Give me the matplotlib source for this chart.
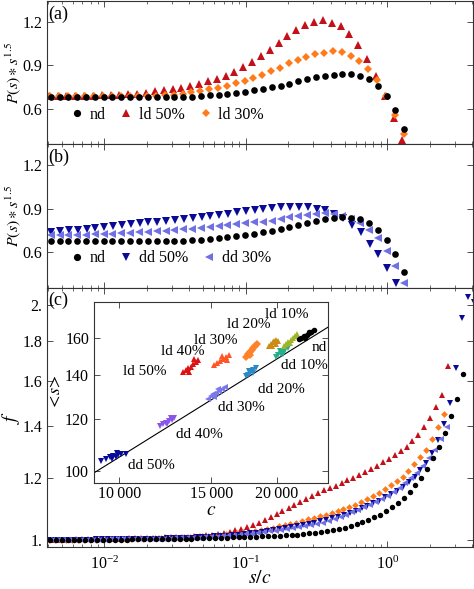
import matplotlib
matplotlib.use("Agg")
import matplotlib.pyplot as plt
import numpy as np
from matplotlib.ticker import FixedLocator, FixedFormatter, NullLocator, NullFormatter, LogLocator
from matplotlib.lines import Line2D

# ---------------- data ----------------
# panels (a)/(b): s/c bin centres
X_AB = [0.00418, 0.00483, 0.00557, 0.00643, 0.00743, 0.00858, 0.00991, 0.01144, 0.01321, 0.01526,
        0.01762, 0.02034, 0.02350, 0.02713, 0.03133, 0.03618, 0.04178, 0.04825, 0.05572, 0.06434,
        0.07430, 0.0858, 0.0991, 0.1144, 0.1321, 0.1526, 0.1762, 0.2034, 0.2350, 0.2713,
        0.3133, 0.3618, 0.4178, 0.4825, 0.5572, 0.6434, 0.7430, 0.858, 0.991, 1.144, 1.321]

# P(s)*s^1.5
ND_P = [0.678] * 12 + [0.679, 0.679, 0.680, 0.681, 0.683, 0.687, 0.691, 0.696, 0.703, 0.710,
                       0.718, 0.728, 0.738, 0.748, 0.759, 0.773, 0.789, 0.803, 0.817, 0.826,
                       0.835, 0.842, 0.838, 0.826, 0.803, 0.755, 0.688, 0.588, 0.462]
LD50_P = [0.690] * 6 + [0.692, 0.695, 0.697, 0.699, 0.704, 0.711, 0.720, 0.727, 0.734, 0.745,
                        0.759, 0.773, 0.789, 0.808, 0.828, 0.854, 0.888, 0.923, 0.965, 1.008,
                        1.052, 1.101, 1.142, 1.177, 1.200, 1.212, 1.195, 1.172, 1.119, 1.043,
                        0.946, 0.824, 0.688, 0.538, 0.381]
LD30_P = [0.685] * 12 + [0.688, 0.692, 0.697, 0.704, 0.713, 0.722, 0.734, 0.745, 0.759, 0.778,
                         0.794, 0.810, 0.831, 0.858, 0.884, 0.912, 0.935, 0.958, 0.976, 0.985,
                         0.997, 0.988, 0.962, 0.930, 0.877, 0.796, 0.688, 0.554, 0.427]
DD50_P = [0.740, 0.745, 0.750, 0.755, 0.762, 0.768, 0.775, 0.781, 0.787, 0.794,
          0.800, 0.805, 0.811, 0.817, 0.823, 0.830, 0.837, 0.844, 0.851, 0.858,
          0.865, 0.874, 0.884, 0.893, 0.898, 0.905, 0.910, 0.912, 0.912, 0.909,
          0.900, 0.888, 0.865, 0.835, 0.789, 0.738, 0.658, 0.586, 0.489, 0.390]
DD30_P = [0.718, 0.717, 0.719, 0.720, 0.721, 0.724, 0.727, 0.729, 0.732, 0.734,
          0.738, 0.741, 0.745, 0.748, 0.752, 0.757, 0.762, 0.768, 0.775, 0.780,
          0.787, 0.792, 0.798, 0.805, 0.808, 0.817, 0.831, 0.842, 0.852, 0.858,
          0.865, 0.870, 0.863, 0.852, 0.831, 0.801, 0.755, 0.697, 0.609, 0.508, 0.390]

# panel (c): finer s/c bins
X_C = [0.00413, 0.00455, 0.00501, 0.00551, 0.00607, 0.00668, 0.00735, 0.00809, 0.00891, 0.00980,
       0.0108, 0.0119, 0.0131, 0.0144, 0.0158, 0.0174, 0.0192, 0.0211, 0.0232, 0.0256,
       0.0282, 0.0310, 0.0341, 0.0376, 0.0413, 0.0455, 0.0501, 0.0551, 0.0607, 0.0668,
       0.0735, 0.0809, 0.0891, 0.0980, 0.108, 0.119, 0.131, 0.144, 0.158, 0.174,
       0.192, 0.211, 0.232, 0.256, 0.282, 0.310, 0.341, 0.376, 0.413, 0.455,
       0.501, 0.551, 0.607, 0.668, 0.735, 0.809, 0.891, 0.980, 1.08, 1.19,
       1.31, 1.44, 1.58, 1.74, 1.92, 2.11, 2.32, 2.56, 2.82, 3.10,
       3.41, 3.76, 4.14]

ND_F = ([1.000] * 10 + [1.001] * 4 + [1.002] * 4 + [1.003] * 4 + [1.004] * 3 + [1.005] * 2
        + [1.006] * 2 + [1.007] * 2
        + [1.008, 1.008, 1.009, 1.009, 1.010, 1.011, 1.011, 1.012, 1.013, 1.014,
           1.015, 1.016, 1.018, 1.020, 1.022, 1.024, 1.027, 1.030, 1.033, 1.037,
           1.042, 1.047, 1.054, 1.061, 1.069, 1.078, 1.088, 1.101, 1.114, 1.131,
           1.152, 1.175, 1.200, 1.232, 1.273, 1.317, 1.373, 1.441, 1.516, 1.634])
LD50_F = ([1.001] * 4 + [1.002] * 4 + [1.003] * 3 + [1.004] * 2 + [1.005] * 2 + [1.006] * 2
          + [1.007] * 2 + [1.008] * 2
          + [1.009, 1.010, 1.010, 1.011, 1.012, 1.014, 1.016, 1.019, 1.022, 1.025,
             1.029, 1.034, 1.039, 1.045, 1.052, 1.060, 1.069, 1.079, 1.090, 1.100,
             1.110, 1.120, 1.130, 1.140, 1.150, 1.158, 1.166, 1.174, 1.184, 1.193,
             1.202, 1.211, 1.222, 1.233, 1.245, 1.257, 1.270, 1.284, 1.299, 1.317,
             1.339, 1.364, 1.396, 1.434, 1.479, 1.532, 1.671])
LD30_F = ([1.001] * 9 + [1.002] * 4 + [1.003] * 3 + [1.004] * 2 + [1.005] * 2 + [1.006] * 2
          + [1.007, 1.008, 1.009, 1.010, 1.011, 1.012, 1.013, 1.015, 1.017, 1.019,
             1.021, 1.023, 1.025, 1.028, 1.031, 1.034, 1.037, 1.041, 1.045, 1.049,
             1.053, 1.058, 1.063, 1.068, 1.073, 1.078, 1.084, 1.089, 1.095, 1.102,
             1.110, 1.118, 1.127, 1.137, 1.150, 1.161, 1.175, 1.190, 1.205, 1.226,
             1.251, 1.278, 1.306, 1.347, 1.397, 1.450])
DD50_F = ([1.001] * 8 + [1.002] * 5 + [1.003] * 4 + [1.004] * 3 + [1.005] * 2 + [1.006] * 2
          + [1.007, 1.008, 1.009, 1.010, 1.011, 1.012, 1.013, 1.015, 1.016, 1.018,
             1.020, 1.022, 1.024, 1.026, 1.029, 1.032, 1.035, 1.038, 1.041, 1.045,
             1.049, 1.053, 1.057, 1.061, 1.066, 1.071, 1.077, 1.084, 1.090, 1.098,
             1.105, 1.114, 1.123, 1.134, 1.146, 1.157, 1.170, 1.186, 1.205, 1.229,
             1.256, 1.294, 1.345, 1.410, 1.500, 1.663, 1.925, 2.050, 2.020])
DD30_F = ([1.001] * 10 + [1.002] * 5 + [1.003] * 3 + [1.004] * 3 + [1.005] * 2 + [1.006] * 2
          + [1.007, 1.008, 1.009, 1.010, 1.011, 1.012, 1.013, 1.015, 1.017, 1.019,
             1.021, 1.023, 1.026, 1.026, 1.029, 1.032, 1.035, 1.038, 1.042, 1.045,
             1.049, 1.053, 1.058, 1.064, 1.071, 1.078, 1.085, 1.093, 1.101, 1.110,
             1.119, 1.129, 1.140, 1.152, 1.166, 1.182, 1.199, 1.220, 1.244, 1.272,
             1.305, 1.348, 1.394])

# inset: (c, <s>) clusters
IN_C_DD50 = [9250, 9450, 9600, 9750, 9850, 9950, 10100, 10300, 9700, 9900]
IN_S_DD50 = [103.5, 104.2, 104.8, 105.3, 105.0, 105.8, 106.2, 106.0, 104.3, 106.4]
IN_C_DD40 = [11950, 12150, 12300, 12450, 12600, 12750, 12350, 12550]
IN_S_DD40 = [117.2, 117.8, 118.5, 119.2, 119.6, 120.3, 117.9, 120.6]
IN_C_DD30 = [14750, 14950, 15100, 15300, 15500, 15700, 15950, 15200, 15450]
IN_S_DD30 = [129.0, 130.0, 131.0, 131.8, 132.6, 133.5, 134.5, 129.8, 133.4]
IN_C_DD20 = [17450, 17600, 17750, 17900, 18050, 18250, 17700, 18000]
IN_S_DD20 = [139.5, 140.4, 141.2, 142.0, 142.8, 143.8, 142.3, 141.3]
IN_C_DD10 = [19950, 20150, 20350, 20550, 20750, 21000, 20300, 20600]
IN_S_DD10 = [149.5, 150.4, 151.3, 152.3, 153.2, 154.3, 152.6, 151.0]
IN_C_ND = [22050, 22300, 22550, 22800, 23050, 23300, 23600, 22600, 23000]
IN_S_ND = [159.0, 160.0, 161.0, 161.8, 162.5, 163.4, 164.2, 159.8, 163.5]
IN_C_LD10 = [20650, 20850, 21050, 21250, 21450, 21650, 21850, 21200]
IN_S_LD10 = [155.5, 156.6, 157.8, 158.8, 160.0, 161.2, 162.0, 157.0]
IN_C_LD20 = [19350, 19500, 19650, 19800, 19950, 20150, 19600, 19900]
IN_S_LD20 = [155.5, 156.5, 157.5, 158.3, 158.8, 158.2, 155.5, 156.3]
IN_C_LD30 = [17450, 17600, 17750, 17900, 18050, 18200, 18350, 17800]
IN_S_LD30 = [149.5, 150.8, 152.0, 153.2, 154.3, 155.3, 156.3, 150.5]
IN_C_LD40 = [15150, 15400, 15600, 15800, 16000, 16200, 15700, 16100]
IN_S_LD40 = [145.5, 146.5, 147.5, 148.5, 149.5, 150.5, 149.8, 148.0]
IN_C_LD50 = [13250, 13400, 13550, 13700, 13850, 14000, 14150, 13600, 13900]
IN_S_LD50 = [141.5, 142.5, 143.5, 144.5, 145.7, 146.8, 148.0, 141.8, 148.5]

# fitted scaling <s> = A * c^0.5
FIT_A = 1.049
FIT_EXP = 0.5

IN_LABELS = ['ld 50%', 'ld 40%', 'ld 30%', 'ld 20%', 'ld 10%', 'nd',
             'dd 10%', 'dd 20%', 'dd 30%', 'dd 40%', 'dd 50%']
IN_LABEL_C = [11200, 13230, 15320, 17670, 20860, 24060, 22590, 20400, 17110, 14210, 11540]
IN_LABEL_S = [142.0, 152.4, 158.5, 167.6, 173.6, 154.3, 144.9, 133.4, 125.2, 113.5, 102.0]

# ---------------- style ----------------
plt.rcParams['font.family'] = ['Liberation Serif', 'DejaVu Serif']
plt.rcParams['mathtext.fontset'] = 'stix'

C_ND = 'black'
C_LD50 = '#c4101a'
C_LD30 = '#ff7a1a'
C_DD50 = '#0a0a96'
C_DD30 = '#7070e6'

FRAME = '#333333'
TICK_FS = 11.5

# small x offsets between series (each series has its own cutoff c)
SHIFT_AB = {'nd': 1.0, 'ld50': 0.97, 'ld30': 0.99, 'dd50': 1.01, 'dd30': 1.0}
SHIFT_C = {'nd': 1.0, 'ld50': 1.045, 'ld30': 0.98, 'dd50': 0.987, 'dd30': 1.028}


def frame(ax):
    for s in ax.spines.values():
        s.set_color(FRAME)
        s.set_linewidth(0.8)
    ax.tick_params(which='both', direction='in', top=True, right=True,
                   colors=FRAME, labelcolor='black', labelsize=TICK_FS)
    ax.tick_params(which='major', length=4, width=0.6)
    ax.tick_params(which='minor', length=2, width=0.5)


def xs(grid, n, f):
    return [v * f for v in grid[:n]]


fig = plt.figure(figsize=(4.74, 5.89), dpi=100)
W, H = 474, 589
ax_a = fig.add_axes([47 / W, 1 - 144 / H, 426 / W, 143 / H])
ax_b = fig.add_axes([47 / W, 1 - 288 / H, 426 / W, 144 / H])
ax_c = fig.add_axes([47 / W, 1 - 547 / H, 426 / W, 259 / H])

ms_ab = {'o': 4.8, '^': 5.2, 'D': 4.0, 'v': 5.2, '<': 5.2}
ms_c = {'o': 3.9, '^': 4.3, 'D': 3.4, 'v': 4.3, '<': 4.3}

# panel (a)
ax_a.plot(xs(X_AB, len(LD50_P), SHIFT_AB['ld50']), LD50_P, ls='none', marker='^', ms=ms_ab['^'], color=C_LD50, mew=0)
ax_a.plot(xs(X_AB, len(LD30_P), SHIFT_AB['ld30']), LD30_P, ls='none', marker='D', ms=ms_ab['D'], color=C_LD30, mew=0)
ax_a.plot(xs(X_AB, len(ND_P), SHIFT_AB['nd']), ND_P, ls='none', marker='o', ms=ms_ab['o'], color=C_ND, mew=0)

# panel (b)
ax_b.plot(xs(X_AB, len(DD50_P), SHIFT_AB['dd50']), DD50_P, ls='none', marker='v', ms=ms_ab['v'], color=C_DD50, mew=0)
ax_b.plot(xs(X_AB, len(DD30_P), SHIFT_AB['dd30']), DD30_P, ls='none', marker='<', ms=ms_ab['<'], color=C_DD30, mew=0)
ax_b.plot(xs(X_AB, len(ND_P), SHIFT_AB['nd']), ND_P, ls='none', marker='o', ms=ms_ab['o'], color=C_ND, mew=0)

# panel (c)
ax_c.plot(xs(X_C, len(LD50_F), SHIFT_C['ld50']), LD50_F, ls='none', marker='^', ms=ms_c['^'], color=C_LD50, mew=0)
ax_c.plot(xs(X_C, len(LD30_F), SHIFT_C['ld30']), LD30_F, ls='none', marker='D', ms=ms_c['D'], color=C_LD30, mew=0)
ax_c.plot(xs(X_C, len(DD50_F), SHIFT_C['dd50']), DD50_F, ls='none', marker='v', ms=ms_c['v'], color=C_DD50, mew=0)
ax_c.plot(xs(X_C, len(DD30_F), SHIFT_C['dd30']), DD30_F, ls='none', marker='<', ms=ms_c['<'], color=C_DD30, mew=0)
ax_c.plot(xs(X_C, len(ND_F), SHIFT_C['nd']), ND_F, ls='none', marker='o', ms=ms_c['o'], color=C_ND, mew=0)

for ax in (ax_a, ax_b, ax_c):
    frame(ax)
    ax.set_xscale('log')
    ax.set_xlim(0.00394, 4.04)
    ax.xaxis.set_major_locator(FixedLocator([0.01, 0.1, 1.0]))
    ax.xaxis.set_minor_locator(LogLocator(base=10, subs=np.arange(2, 10), numticks=20))
    ax.xaxis.set_minor_formatter(NullFormatter())

for ax, lab in ((ax_a, '(a)'), (ax_b, '(b)')):
    ax.set_ylim(0.355, 1.344)
    ax.yaxis.set_major_locator(FixedLocator([0.6, 0.9, 1.2]))
    ax.yaxis.set_major_formatter(FixedFormatter(['0.6', '0.9', '1.2']))
    ax.tick_params(axis='x', labelbottom=False)
    ax.set_ylabel(r'$P(s)\ast s^{1.5}$', fontsize=11.5)
    ax.yaxis.set_label_coords(-0.056, 0.5)
    ax.text(0.003, 0.97, lab, transform=ax.transAxes, fontsize=13, va='top', ha='left')

ax_c.set_yscale('log')
ax_c.set_ylim(0.9796, 2.103)
ax_c.yaxis.set_major_locator(FixedLocator([1.0, 1.2, 1.4, 1.6, 1.8, 2.0]))
ax_c.yaxis.set_major_formatter(FixedFormatter(['1.', '1.2', '1.4', '1.6', '1.8', '2.']))
ax_c.yaxis.set_minor_locator(NullLocator())
ax_c.tick_params(axis='x', which='major', pad=6)
ax_c.set_ylabel(r'$f$', fontsize=14)
ax_c.yaxis.set_label_coords(-0.058, 0.5)
ax_c.set_xlabel(r'$s/c$', fontsize=14, labelpad=-2)
ax_c.text(0.003, 0.985, '(c)', transform=ax_c.transAxes, fontsize=13, va='top', ha='left')


def mk(marker, color, size):
    return Line2D([], [], ls='none', marker=marker, color=color, ms=size, mew=0)


leg_kw = dict(loc='center left', ncol=3, frameon=False, fontsize=11.5, handlelength=0.8,
              handletextpad=0.4, columnspacing=0.9, borderpad=0, borderaxespad=0)
ax_a.legend([mk('o', C_ND, 5.2), mk('^', C_LD50, 5.6), mk('D', C_LD30, 4.4)],
            ['nd', 'ld 50%', 'ld 30%'], bbox_to_anchor=(0.055, 0.205), **leg_kw)
ax_b.legend([mk('o', C_ND, 5.2), mk('v', C_DD50, 5.6), mk('<', C_DD30, 5.6)],
            ['nd', 'dd 50%', 'dd 30%'], bbox_to_anchor=(0.055, 0.205), **leg_kw)

# ---------------- inset ----------------
ax_in = fig.add_axes([94 / W, 1 - 483.3 / H, 234 / W, 181.6 / H])
ax_in.set_facecolor('white')
frame(ax_in)
ax_in.tick_params(which='both', labelsize=11.5)
ax_in.set_xscale('log')
ax_in.set_yscale('log')
ax_in.set_xlim(8950, 25060)
ax_in.set_ylim(95.65, 181.7)

c_fit = np.geomspace(8950, 25060, 50)
ax_in.plot(c_fit, FIT_A * c_fit ** FIT_EXP, color='black', lw=0.8)

clusters = [
    (IN_C_DD50, IN_S_DD50, 'v', '#0a0a9a'),
    (IN_C_DD40, IN_S_DD40, 'v', '#8a55e8'),
    (IN_C_DD30, IN_S_DD30, '<', '#7878ee'),
    (IN_C_DD20, IN_S_DD20, 'v', '#2a8ac8'),
    (IN_C_DD10, IN_S_DD10, 'v', '#24b08c'),
    (IN_C_LD50, IN_S_LD50, '^', '#dd1111'),
    (IN_C_LD40, IN_S_LD40, '^', '#ff5522'),
    (IN_C_LD30, IN_S_LD30, 'D', '#ff8228'),
    (IN_C_LD20, IN_S_LD20, '^', '#cc8c14'),
    (IN_C_LD10, IN_S_LD10, '^', '#a0b428'),
    (IN_C_ND, IN_S_ND, 'o', 'black'),
]
for cc, ss, m, col in clusters:
    ax_in.plot(cc, ss, ls='none', marker=m, ms=4.0, color=col, mew=0)

for lab, cx, sy in zip(IN_LABELS, IN_LABEL_C, IN_LABEL_S):
    ax_in.text(cx, sy, lab, ha='center', va='center', fontsize=11)

ax_in.xaxis.set_major_locator(FixedLocator([10000, 15000, 20000]))
ax_in.xaxis.set_major_formatter(FixedFormatter(['10\u2009000', '15\u2009000', '20\u2009000']))
ax_in.xaxis.set_minor_locator(NullLocator())
ax_in.yaxis.set_major_locator(FixedLocator([100, 120, 140, 160]))
ax_in.yaxis.set_major_formatter(FixedFormatter(['100', '120', '140', '160']))
ax_in.yaxis.set_minor_locator(NullLocator())
ax_in.tick_params(axis='x', which='major', pad=2)
ax_in.set_xlabel(r'$c$', fontsize=14, labelpad=0)
ax_in.set_ylabel(r'$<\!s\!>$', fontsize=13, labelpad=1)

fig.savefig('out.png', dpi=100)
